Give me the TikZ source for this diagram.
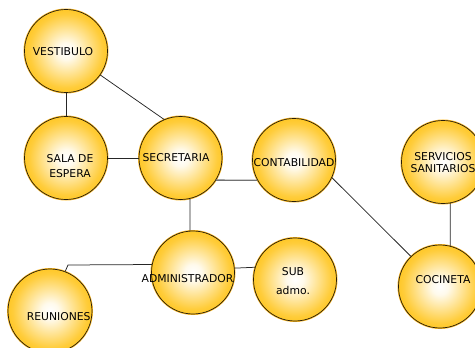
\documentclass[tikz,border=0pt]{standalone}
\usepackage{fontspec}
\setmainfont{DejaVu Sans}
\definecolor{roomgold}{RGB}{255,192,10}
\definecolor{roomhalo}{RGB}{250,185,40}
\definecolor{roomedge}{RGB}{40,30,10}
\pgfdeclareradialshading{roomglow}{\pgfpoint{0bp}{0bp}}{%
  color(0bp)=(white); color(5bp)=(white!92!roomgold);
  color(22bp)=(roomgold!80!white); color(30bp)=(roomgold); color(50bp)=(roomgold)}
\tikzset{
  room/.style={circle, minimum size=#1, inner sep=0pt, shading=roomglow,
    draw=roomedge, line width=0.7pt,
    preaction={draw=roomhalo, line width=2pt}},
  room/.default=83pt,
  tag/.style={font=\fontsize{10.8}{12.8}\selectfont, align=center, inner sep=0pt},
  link/.style={draw=black!85, line width=0.75pt},
  graylink/.style={draw=black!55, line width=1.4pt}
}
\begin{document}
\begin{tikzpicture}[x=1pt, y=-1pt]
  \useasboundingbox (0,0) rectangle (475,348);
  \clip (0,0) rectangle (475,348);

  % rooms
  \node[room] (vest) at (66,51) {};
  \node[room] (sala) at (66,158) {};
  \node[room] (sec)  at (180.5,158) {};
  \node[room] (cont) at (294,160) {};
  \node[room] (serv) at (443,162) {};
  \node[room] (adm)  at (193,272.5) {};
  \node[room] (sub)  at (295,279.5) {};
  \node[room] (coc)  at (440,286.5) {};
  \node[room=84pt] (reu) at (50,311) {};

  % names
  \node[tag] (tvest) at (63,52) {VESTIBULO};
  \node[tag] (tsala) at (70,166) {SALA DE\\[1.5pt]ESPERA};
  \node[tag] (tsec)  at (176,158) {SECRETARIA};
  \node[tag] (tcont) at (294,163) {CONTABILIDAD};
  \node[tag] (tserv) at (443,162.5) {SERVICIOS\\SANITARIOS};
  \node[tag] (tadm)  at (187.5,279) {ADMINISTRADOR};
  \node[tag] (tsub)  at (293,281) {SUB\\[6pt]admo.};
  \node[tag] (tcoc)  at (443,280) {COCINETA};
  \node[tag] (treu)  at (58.7,317) {REUNIONES};

  % connections
  \coordinate (bend) at (68,265);
  \path[link] (vest.south) -- (sala.north);
  \path[link] (vest.-35.5) -- (sec.113.5);
  \path[link] (sala.east) -- (sec.west);
  \path[graylink] (sec.-32) -- (cont.209);
  \path[link] (sec.-77) -- (adm.94);
  \path[link] (adm.6.3) -- (sub.163.7);
  \path[link] (adm.169.6) -- (bend) -- (reu.69);
  \path[link] (cont.-25.9) -- (coc.134.5);
  \path[link] (serv.-80) -- (coc.76);
\end{tikzpicture}
\end{document}
